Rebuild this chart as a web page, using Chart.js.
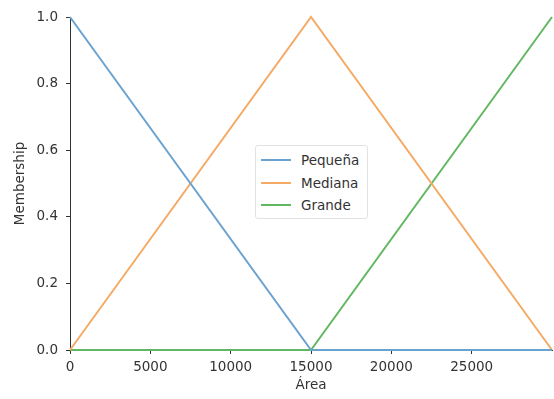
<!DOCTYPE html>
<html>
<head>
<meta charset="utf-8">
<script src="https://cdn.jsdelivr.net/npm/chart.js@4.4.0/dist/chart.umd.min.js"></script>
<style>
  html, body { margin: 0; padding: 0; background: #fff; }
  #wrap { position: relative; width: 554px; height: 399px; }
  #legend {
    position: absolute; left: 255px; top: 145px; width: 113px; height: 74px;
    box-sizing: border-box; border: 1px solid #e2e2e2; border-radius: 3px; background: #fff;
    font-family: "DejaVu Sans", sans-serif; font-size: 13.5px; color: #333;
    padding-top: 3px;
  }
  .row { display: flex; align-items: center; height: 22.5px; }
  .swatch { width: 30px; height: 2px; margin-left: 5px; margin-right: 10px; }
</style>
</head>
<body>
<div id="wrap">
  <canvas id="chart" width="554" height="399"></canvas>
  <div id="legend"></div>
</div>
<script>
// Universo del área y funciones de pertenencia triangulares
const area = [0, 15000, 29999];
const pequena = [1, 0, 0];
const mediana = [0, 1, 0];
const grande = [0, 0, 1];

const labels = ["Pequeña", "Mediana", "Grande"];
const colors = ["#6aa2d0", "#f5aa66", "#62b862"];
const series = [pequena, mediana, grande];

const FONT = { family: "'DejaVu Sans', sans-serif", size: 13.5 };

const datasets = series.map((vals, i) => ({
  label: labels[i],
  data: area.map((x, j) => ({ x: x, y: vals[j] })),
  borderColor: colors[i],
  borderWidth: 2,
  pointRadius: 0,
  tension: 0,
  clip: false
}));

new Chart(document.getElementById("chart"), {
  type: "line",
  data: { datasets },
  options: {
    responsive: false,
    animation: false,
    parsing: false,
    layout: { padding: { left: 0, right: 2, top: 17, bottom: 0 } },
    plugins: { legend: { display: false }, tooltip: { enabled: false } },
    scales: {
      x: {
        type: "linear",
        min: 0,
        max: 29999,
        afterBuildTicks: (scale) => {
          scale.ticks = [0, 5000, 10000, 15000, 20000, 25000].map(v => ({ value: v }));
        },
        ticks: { color: "#333", font: FONT, padding: 5, maxRotation: 0,
                 callback: (v) => String(v) },
        grid: { drawOnChartArea: false, drawTicks: true, tickLength: 4, tickColor: "#333" },
        border: { display: true, color: "#333", width: 1 },
        title: { display: true, text: "Área", color: "#333", font: FONT, padding: { top: 0, bottom: 5 } },
        afterFit: (scale) => { scale.height = 49; }
      },
      y: {
        min: 0,
        max: 1,
        ticks: { stepSize: 0.2, color: "#333", font: FONT, padding: 8,
                 callback: (v) => v.toFixed(1) },
        grid: { drawOnChartArea: false, drawTicks: true, tickLength: 4, tickColor: "#333" },
        border: { display: true, color: "#333", width: 1 },
        title: { display: true, text: "Membership", color: "#333", font: FONT, padding: { top: 12, bottom: 0 } },
        afterFit: (scale) => { scale.width = 70; }
      }
    }
  }
});

// Leyenda en el centro del área del gráfico
const legend = document.getElementById("legend");
labels.forEach((name, i) => {
  const row = document.createElement("div");
  row.className = "row";
  const sw = document.createElement("div");
  sw.className = "swatch";
  sw.style.background = colors[i];
  const txt = document.createElement("span");
  txt.textContent = name;
  row.appendChild(sw);
  row.appendChild(txt);
  legend.appendChild(row);
});
</script>
</body>
</html>
